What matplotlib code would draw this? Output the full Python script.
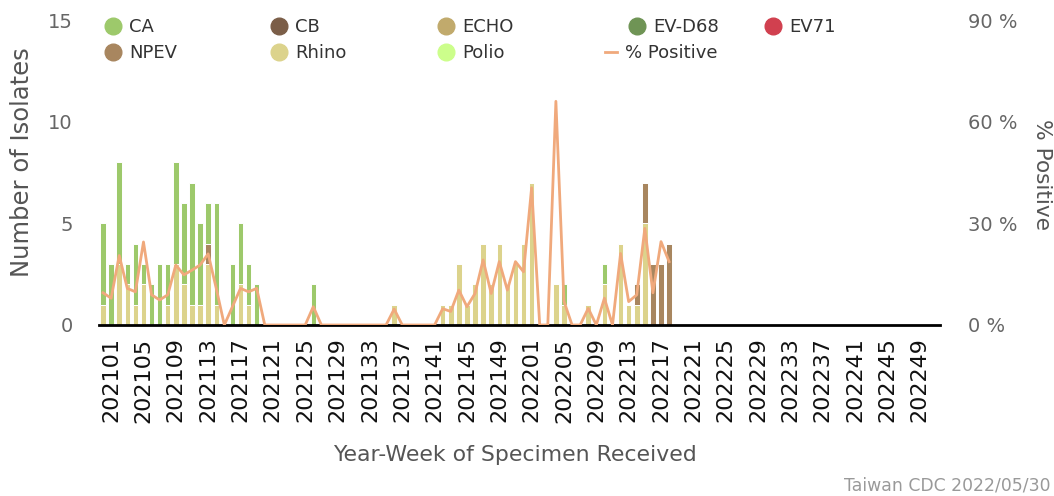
import matplotlib
matplotlib.use("Agg")
import matplotlib.pyplot as plt
from matplotlib.lines import Line2D
import numpy as np

# ---- categories (weekly, year-week) ----
weeks = ["202053"] + [f"2021{w:02d}" for w in range(1, 53)] + [f"2022{w:02d}" for w in range(1, 52)]
tick_labels = ["202101", "202105", "202109", "202113", "202117", "202121", "202125",
               "202129", "202133", "202137", "202141", "202145", "202149",
               "202201", "202205", "202209", "202213", "202217", "202221", "202225",
               "202229", "202233", "202237", "202241", "202245", "202249"]

# ---- series values (weeks with data, in order from the first category) ----
CA = [4, 3, 5, 1, 3, 1, 2, 3, 2, 5, 4, 6, 4, 2, 5, 0, 3, 3, 2, 2,
      0, 0, 0, 0, 0, 0, 2, 0, 0, 0, 0, 0, 0, 0, 0, 0, 0, 0, 0, 0,
      0, 0, 0, 0, 0, 0, 0, 0, 0, 0, 0, 0, 0, 0, 0, 0, 0, 1, 0, 0,
      0, 0, 1, 0, 0, 0, 0, 0, 0, 0, 0]
NPEV = [0, 0, 0, 0, 0, 0, 0, 0, 0, 0, 0, 0, 0, 1, 0, 0, 0, 0, 0, 0,
        0, 0, 0, 0, 0, 0, 0, 0, 0, 0, 0, 0, 0, 0, 0, 0, 0, 0, 0, 0,
        0, 0, 0, 0, 0, 0, 0, 0, 0, 0, 0, 0, 0, 0, 0, 0, 0, 0, 0, 0,
        0, 0, 0, 0, 0, 0, 1, 2, 3, 3, 4]
Rhino = [1, 0, 3, 2, 1, 2, 0, 0, 1, 3, 2, 1, 1, 3, 1, 0, 0, 2, 1, 0,
         0, 0, 0, 0, 0, 0, 0, 0, 0, 0, 0, 0, 0, 0, 0, 0, 1, 0, 0, 0,
         0, 0, 1, 1, 3, 1, 2, 4, 2, 4, 2, 3, 4, 7, 0, 0, 2, 1, 0, 0,
         1, 0, 2, 0, 4, 1, 1, 5, 0, 0, 0]
CB = [0] * 71
ECHO = [0] * 71
EVD68 = [0] * 71
EV71 = [0] * 71
Polio = [0] * 71
pct_positive = [9.5, 7.9, 20.5, 10.8, 9.8, 24.5, 8.9, 7.4, 8.9, 17.7,
                14.8, 16.2, 17.7, 21.0, 10.8, 0, 5.4, 10.8, 9.8, 10.8,
                0, 0, 0, 0, 0, 0, 5.4, 0, 0, 0, 0, 0, 0, 0, 0, 0, 4.7, 0, 0, 0,
                0, 0, 4.8, 4.0, 10.3, 5.4, 9.3, 19.2, 9.3, 18.7,
                10.3, 18.7, 15.7, 40.5, 0, 0, 66.0, 7.0, 0, 0,
                4.9, 0, 7.9, 0, 21.1, 6.9, 8.9, 28.5, 9.5, 24.6, 18.7]

series_names = ["CA", "CB", "ECHO", "EV-D68", "EV71", "NPEV", "Rhino", "Polio"]
series_vals = [CA, CB, ECHO, EVD68, EV71, NPEV, Rhino, Polio]
colors = ["#9dc96b", "#7b5e48", "#c1aa6c", "#6f9455", "#d1404f", "#a8865f", "#dcd38c", "#ccfe8b"]
pct_color = "#f0a97c"

fig = plt.figure(figsize=(10.54, 4.96), dpi=100)
ax = fig.add_axes([99 / 1054, 1 - 325 / 496, 841 / 1054, 305 / 496])

n = len(weeks)
x = np.arange(len(CA))
bottom = np.zeros(len(CA))
# stack bottom-up: Polio, Rhino, NPEV, EV71, EV-D68, ECHO, CB, CA
for name, vals, c in reversed(list(zip(series_names, series_vals, colors))):
    v = np.array(vals, dtype=float)
    ax.bar(x, v, bottom=bottom, width=0.68, color=c, edgecolor="white",
           linewidth=0.7, zorder=2)
    bottom += v

ax.set_xlim(-0.5, n - 0.5)
ax.set_ylim(0, 15)
ax.set_yticks([0, 5, 10, 15])
ax.tick_params(axis="y", length=0, pad=19, labelsize=14, labelcolor="#666666")
tick_pos = [weeks.index(t) for t in tick_labels]
ax.set_xticks(tick_pos)
ax.set_xticklabels(tick_labels, rotation=90, fontsize=16, color="#111111")
ax.tick_params(axis="x", length=0, pad=9)
for s in ["top", "left", "right"]:
    ax.spines[s].set_visible(False)
ax.spines["bottom"].set_color("black")
ax.spines["bottom"].set_linewidth(2)

ax.set_ylabel("Number of Isolates", fontsize=17.5, color="#555555")
ax.yaxis.set_label_coords(-0.0916, 0.534)
ax.yaxis.label.set_va("center")
ax.set_xlabel("Year-Week of Specimen Received", fontsize=15.8, color="#555555")
ax.xaxis.set_label_coords(0.495, -0.426)
ax.xaxis.label.set_va("center")

ax2 = ax.twinx()
ax2.plot(np.arange(len(pct_positive)), pct_positive, color=pct_color, lw=2, zorder=3)
ax2.set_ylim(0, 90)
ax2.set_yticks([0, 30, 60, 90])
ax2.set_yticklabels(["0 %", "30 %", "60 %", "90 %"])
ax2.tick_params(axis="y", length=0, pad=20, labelsize=14, labelcolor="#666666")
for s in ["top", "left", "right", "bottom"]:
    ax2.spines[s].set_visible(False)
ax2.set_ylabel("% Positive", fontsize=15.6, color="#555555", rotation=270)
ax2.yaxis.set_label_coords(1.121, 0.495)
ax2.yaxis.label.set_va("center")

# ---- legend (one item each, placed like the reference) ----
W, H = 1054, 496
leg_fs = 13
em = leg_fs * 100 / 72
items = [("CA", 113, 27), ("CB", 279, 27), ("ECHO", 446, 27), ("EV-D68", 637, 27),
         ("EV71", 773, 27), ("NPEV", 113, 53), ("Rhino", 279, 53), ("Polio", 446, 53)]
cmap = dict(zip(series_names, colors))
for name, cx, cy in items:
    h = Line2D([], [], marker="o", ls="", color=cmap[name], markersize=12)
    lg = fig.legend([h], [name], loc="center left",
                    bbox_to_anchor=((cx - em / 2) / W, 1 - cy / H),
                    frameon=False, fontsize=leg_fs, handlelength=1.0,
                    handletextpad=0.4, borderpad=0, borderaxespad=0)
    lg.get_texts()[0].set_color("#333333")
hl = Line2D([], [], color=pct_color, lw=2)
lg = fig.legend([hl], ["% Positive"], loc="center left",
                bbox_to_anchor=(605 / W, 1 - 53 / H), frameon=False,
                fontsize=leg_fs, handlelength=12 / em, handletextpad=0.44,
                borderpad=0, borderaxespad=0)
lg.get_texts()[0].set_color("#333333")

fig.text(1050 / W, 1 - 485 / H, "Taiwan CDC 2022/05/30", fontsize=12.4,
         color="#999999", ha="right", va="center")

fig.savefig("out.png", dpi=100)
